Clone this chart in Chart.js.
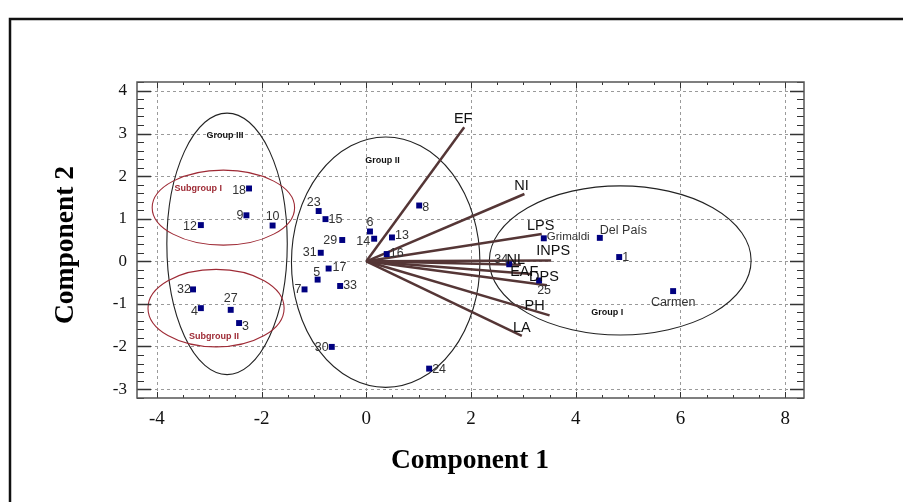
<!DOCTYPE html>
<html>
<head>
<meta charset="utf-8">
<script src="https://cdn.jsdelivr.net/npm/chart.js@4.4.0/dist/chart.umd.min.js"></script>
<style>
    html, body { margin: 0; padding: 0; background: #fff; }
    #wrap { position: relative; width: 903px; height: 502px; }
</style>
</head>
<body>
<div id="wrap"><canvas id="biplot" width="903" height="502"></canvas></div>
<script>
// Axis ranges and tick labels
const xRange = [-4.38, 8.36];
const yRange = [-3.21, 4.21];
const xTicks = [-4, -2, 0, 2, 4, 6, 8];
const yTicks = [-3, -2, -1, 0, 1, 2, 3, 4];
const xMinorStep = 0.5;
const yMinorStep = 0.2;

// Observations (scores)
const pointNames = ['18', '9', '12', '10', '23', '15', '29', '31', '17', '5', '33', '7', '32', '4', '27', '3', '30',
    '8', '6', '14', '13', '16', '24', '34', '25', 'Grimaldi', 'Del País', '1', 'Carmen'];
const pointX = [-2.24, -2.29, -3.16, -1.79, -0.91, -0.78, -0.46, -0.87, -0.72, -0.93, -0.50, -1.18, -3.31, -3.16, -2.59, -2.43, -0.66,
    1.01, 0.07, 0.15, 0.49, 0.39, 1.20, 2.73, 3.30, 3.39, 4.46, 4.83, 5.86];
const pointY = [1.71, 1.08, 0.85, 0.84, 1.18, 0.99, 0.50, 0.20, -0.17, -0.43, -0.58, -0.66, -0.66, -1.10, -1.14, -1.45, -2.01,
    1.31, 0.70, 0.53, 0.56, 0.17, -2.52, -0.07, -0.45, 0.54, 0.55, 0.10, -0.70];

// Variables (loadings, drawn from the origin)
const varNames = ['EF', 'NI', 'LPS', 'INPS', 'NL', 'EAF', 'DPS', 'PH', 'LA'];
const varX = [1.87, 3.02, 3.35, 3.53, 2.95, 3.15, 3.45, 3.50, 2.97];
const varY = [3.15, 1.58, 0.64, 0.02, -0.08, -0.30, -0.56, -1.27, -1.75];

// Group ellipses
const groupNames = ['Group III', 'Group II', 'Group I', 'Subgroup I', 'Subgroup II'];
const ellipseCX = [-2.66, 0.37, 4.85, -2.73, -2.87];
const ellipseCY = [0.41, -0.02, 0.02, 1.26, -1.10];
const ellipseRX = [1.15, 1.80, 2.50, 1.36, 1.30];
const ellipseRY = [3.07, 2.94, 1.75, 0.88, 0.91];
const groupLabelX = [-2.70, 0.31, 4.60, -3.21, -2.91];
const groupLabelY = [2.95, 2.36, -1.21, 1.71, -1.77];

// styles
const groupColors = ['#222', '#222', '#222', '#9e2a35', '#9e2a35'];
const groupTextColors = ['#111', '#111', '#111', '#9e2a35', '#9e2a35'];
const arrowColor = '#553636';
const pointColor = '#000080';

// label placement: [align, dx, dy] in pixels from the mark
const pointLabelPlace = {
    '18': ['right', -3, 2], '9': ['right', -3, 0], '12': ['right', -4, 1], '10': ['center', 0, -9],
    '23': ['center', -5, -8], '15': ['left', 3, 0], '29': ['right', -5, 1], '31': ['right', -4, 0],
    '17': ['left', 4, -1], '5': ['center', -1, -7], '33': ['left', 3, 0], '7': ['right', -3, 0],
    '32': ['right', -2, 0], '4': ['right', -3, 3], '27': ['center', 0, -11], '3': ['left', 3, 4],
    '30': ['right', -3, 1], '8': ['left', 3, 2], '6': ['center', 0, -9], '14': ['right', -4, 3],
    '13': ['left', 3, -2], '16': ['left', 3, -1], '24': ['left', 3, 1], '34': ['right', -1, -5],
    '25': ['center', 5, 10], 'Grimaldi': ['left', 3, -1], 'Del País': ['left', 0, -7],
    '1': ['left', 3, 1], 'Carmen': ['center', 0, 11]
};
const varLabelPlace = {
    'EF': [-1, -8], 'NI': [-3, -8], 'LPS': [-1, -8], 'INPS': [2, -9], 'NL': [-5, -5],
    'EAF': [-7, -2], 'DPS': [-3, -8], 'PH': [-15, -9], 'LA': [0, -8]
};

const sans = '"Liberation Sans", Arial, sans-serif';
const serif = '"Liberation Serif", "Times New Roman", serif';

const biplotDecor = {
    id: 'biplotDecor',
    beforeDraw(chart) {
        const ctx = chart.ctx;
        ctx.save();
        // outer frame
        ctx.strokeStyle = '#111';
        ctx.lineWidth = 2.5;
        ctx.beginPath();
        ctx.moveTo(10, 510);
        ctx.lineTo(10, 19);
        ctx.lineTo(910, 19);
        ctx.stroke();

        const { left, right, top, bottom } = chart.chartArea;
        const xs = chart.scales.x, ys = chart.scales.y;
        // dashed grid
        ctx.strokeStyle = '#9a9a9a';
        ctx.lineWidth = 1;
        ctx.setLineDash([3, 3]);
        xTicks.forEach(v => {
            const px = Math.round(xs.getPixelForValue(v)) + 0.5;
            ctx.beginPath(); ctx.moveTo(px, top); ctx.lineTo(px, bottom); ctx.stroke();
        });
        yTicks.forEach(v => {
            const py = Math.round(ys.getPixelForValue(v)) + 0.5;
            ctx.beginPath(); ctx.moveTo(left, py); ctx.lineTo(right, py); ctx.stroke();
        });
        ctx.setLineDash([]);
        ctx.restore();
    },
    beforeDatasetsDraw(chart) {
        const ctx = chart.ctx;
        const xs = chart.scales.x, ys = chart.scales.y;
        ctx.save();
        groupNames.forEach((g, i) => {
            const cx = xs.getPixelForValue(ellipseCX[i]);
            const cy = ys.getPixelForValue(ellipseCY[i]);
            const rx = Math.abs(xs.getPixelForValue(ellipseCX[i] + ellipseRX[i]) - cx);
            const ry = Math.abs(ys.getPixelForValue(ellipseCY[i] + ellipseRY[i]) - cy);
            ctx.strokeStyle = groupColors[i];
            ctx.lineWidth = 1.1;
            ctx.beginPath();
            ctx.ellipse(cx, cy, rx, ry, 0, 0, Math.PI * 2);
            ctx.stroke();
        });
        ctx.restore();
    },
    afterDatasetsDraw(chart) {
        const ctx = chart.ctx;
        const xs = chart.scales.x, ys = chart.scales.y;
        ctx.save();
        ctx.textBaseline = 'middle';

        // group captions
        ctx.font = 'bold 9px ' + sans;
        ctx.textAlign = 'center';
        groupNames.forEach((g, i) => {
            ctx.fillStyle = groupTextColors[i];
            ctx.fillText(g, xs.getPixelForValue(groupLabelX[i]), ys.getPixelForValue(groupLabelY[i]));
        });

        // variable captions
        ctx.font = '14.5px ' + sans;
        ctx.fillStyle = '#111';
        varNames.forEach((v, i) => {
            const p = varLabelPlace[v];
            ctx.fillText(v, xs.getPixelForValue(varX[i]) + p[0], ys.getPixelForValue(varY[i]) + p[1]);
        });

        // observation captions
        ctx.fillStyle = '#333';
        pointNames.forEach((n, i) => {
            const p = pointLabelPlace[n];
            ctx.font = (n === 'Grimaldi' ? '11.5px ' : '12.5px ') + sans;
            ctx.textAlign = p[0];
            ctx.fillText(n, xs.getPixelForValue(pointX[i]) + p[1], ys.getPixelForValue(pointY[i]) + p[2]);
        });
        ctx.restore();
    },
    afterDraw(chart) {
        const ctx = chart.ctx;
        const { left, right, top, bottom } = chart.chartArea;
        const xs = chart.scales.x, ys = chart.scales.y;
        ctx.save();
        // tick marks, inward on all four sides
        ctx.strokeStyle = '#333';
        ctx.lineWidth = 1;
        for (let v = Math.ceil(yRange[0] / yMinorStep) * yMinorStep; v <= yRange[1]; v += yMinorStep) {
            const major = Math.abs(v - Math.round(v)) < 1e-6;
            const len = major ? 14 : 7;
            const py = Math.round(ys.getPixelForValue(v)) + 0.5;
            ctx.lineWidth = major ? 1.5 : 1;
            ctx.beginPath();
            ctx.moveTo(left, py); ctx.lineTo(left + len, py);
            ctx.moveTo(right, py); ctx.lineTo(right - len, py);
            ctx.stroke();
        }
        for (let v = Math.ceil(xRange[0] / xMinorStep) * xMinorStep; v <= xRange[1]; v += xMinorStep) {
            const major = Math.abs(v / 2 - Math.round(v / 2)) < 1e-6;
            const len = major ? 6 : 3;
            const px = Math.round(xs.getPixelForValue(v)) + 0.5;
            ctx.lineWidth = 1;
            ctx.beginPath();
            ctx.moveTo(px, bottom); ctx.lineTo(px, bottom - len);
            ctx.moveTo(px, top); ctx.lineTo(px, top + len);
            ctx.stroke();
        }
        // plot border
        ctx.strokeStyle = '#555';
        ctx.lineWidth = 1.5;
        ctx.strokeRect(left, top, right - left, bottom - top);

        // axis titles
        ctx.fillStyle = '#000';
        ctx.font = 'bold 27.5px ' + serif;
        ctx.textAlign = 'center';
        ctx.textBaseline = 'middle';
        ctx.fillText('Component 1', 470, 461);
        ctx.translate(66, 245);
        ctx.rotate(-Math.PI / 2);
        ctx.fillText('Component 2', 0, 0);
        ctx.restore();
    }
};

document.addEventListener('DOMContentLoaded', function() {
    const arrowSets = varNames.map((v, i) => ({
        type: 'line',
        label: v,
        data: [{ x: 0, y: 0 }, { x: varX[i], y: varY[i] }],
        borderColor: arrowColor,
        borderWidth: 2.5,
        pointRadius: 0,
        fill: false,
        order: 2
    }));

    new Chart(document.getElementById('biplot'), {
        type: 'scatter',
        data: {
            datasets: [{
                label: 'Scores',
                data: pointNames.map((n, i) => ({ x: pointX[i], y: pointY[i] })),
                backgroundColor: pointColor,
                borderWidth: 0,
                pointStyle: 'rect',
                pointRadius: 4.2,
                order: 1
            }].concat(arrowSets)
        },
        options: {
            responsive: false,
            devicePixelRatio: 1,
            animation: false,
            layout: { padding: { left: 0, right: 99, top: 82, bottom: 0 } },
            plugins: {
                legend: { display: false },
                tooltip: { enabled: false }
            },
            scales: {
                x: {
                    type: 'linear',
                    min: xRange[0],
                    max: xRange[1],
                    afterBuildTicks: s => { s.ticks = xTicks.map(v => ({ value: v })); },
                    afterFit: s => { s.height = 104; },
                    grid: { display: false, drawTicks: false },
                    border: { display: false },
                    ticks: { color: '#111', padding: 10, font: { family: serif, size: 19 } }
                },
                y: {
                    type: 'linear',
                    min: yRange[0],
                    max: yRange[1],
                    afterBuildTicks: s => { s.ticks = yTicks.map(v => ({ value: v })); },
                    afterFit: s => { s.width = 137; },
                    grid: { display: false, drawTicks: false },
                    border: { display: false },
                    ticks: { color: '#111', padding: 10, font: { family: serif, size: 17 } }
                }
            }
        },
        plugins: [biplotDecor]
    });
});
</script>
</body>
</html>
